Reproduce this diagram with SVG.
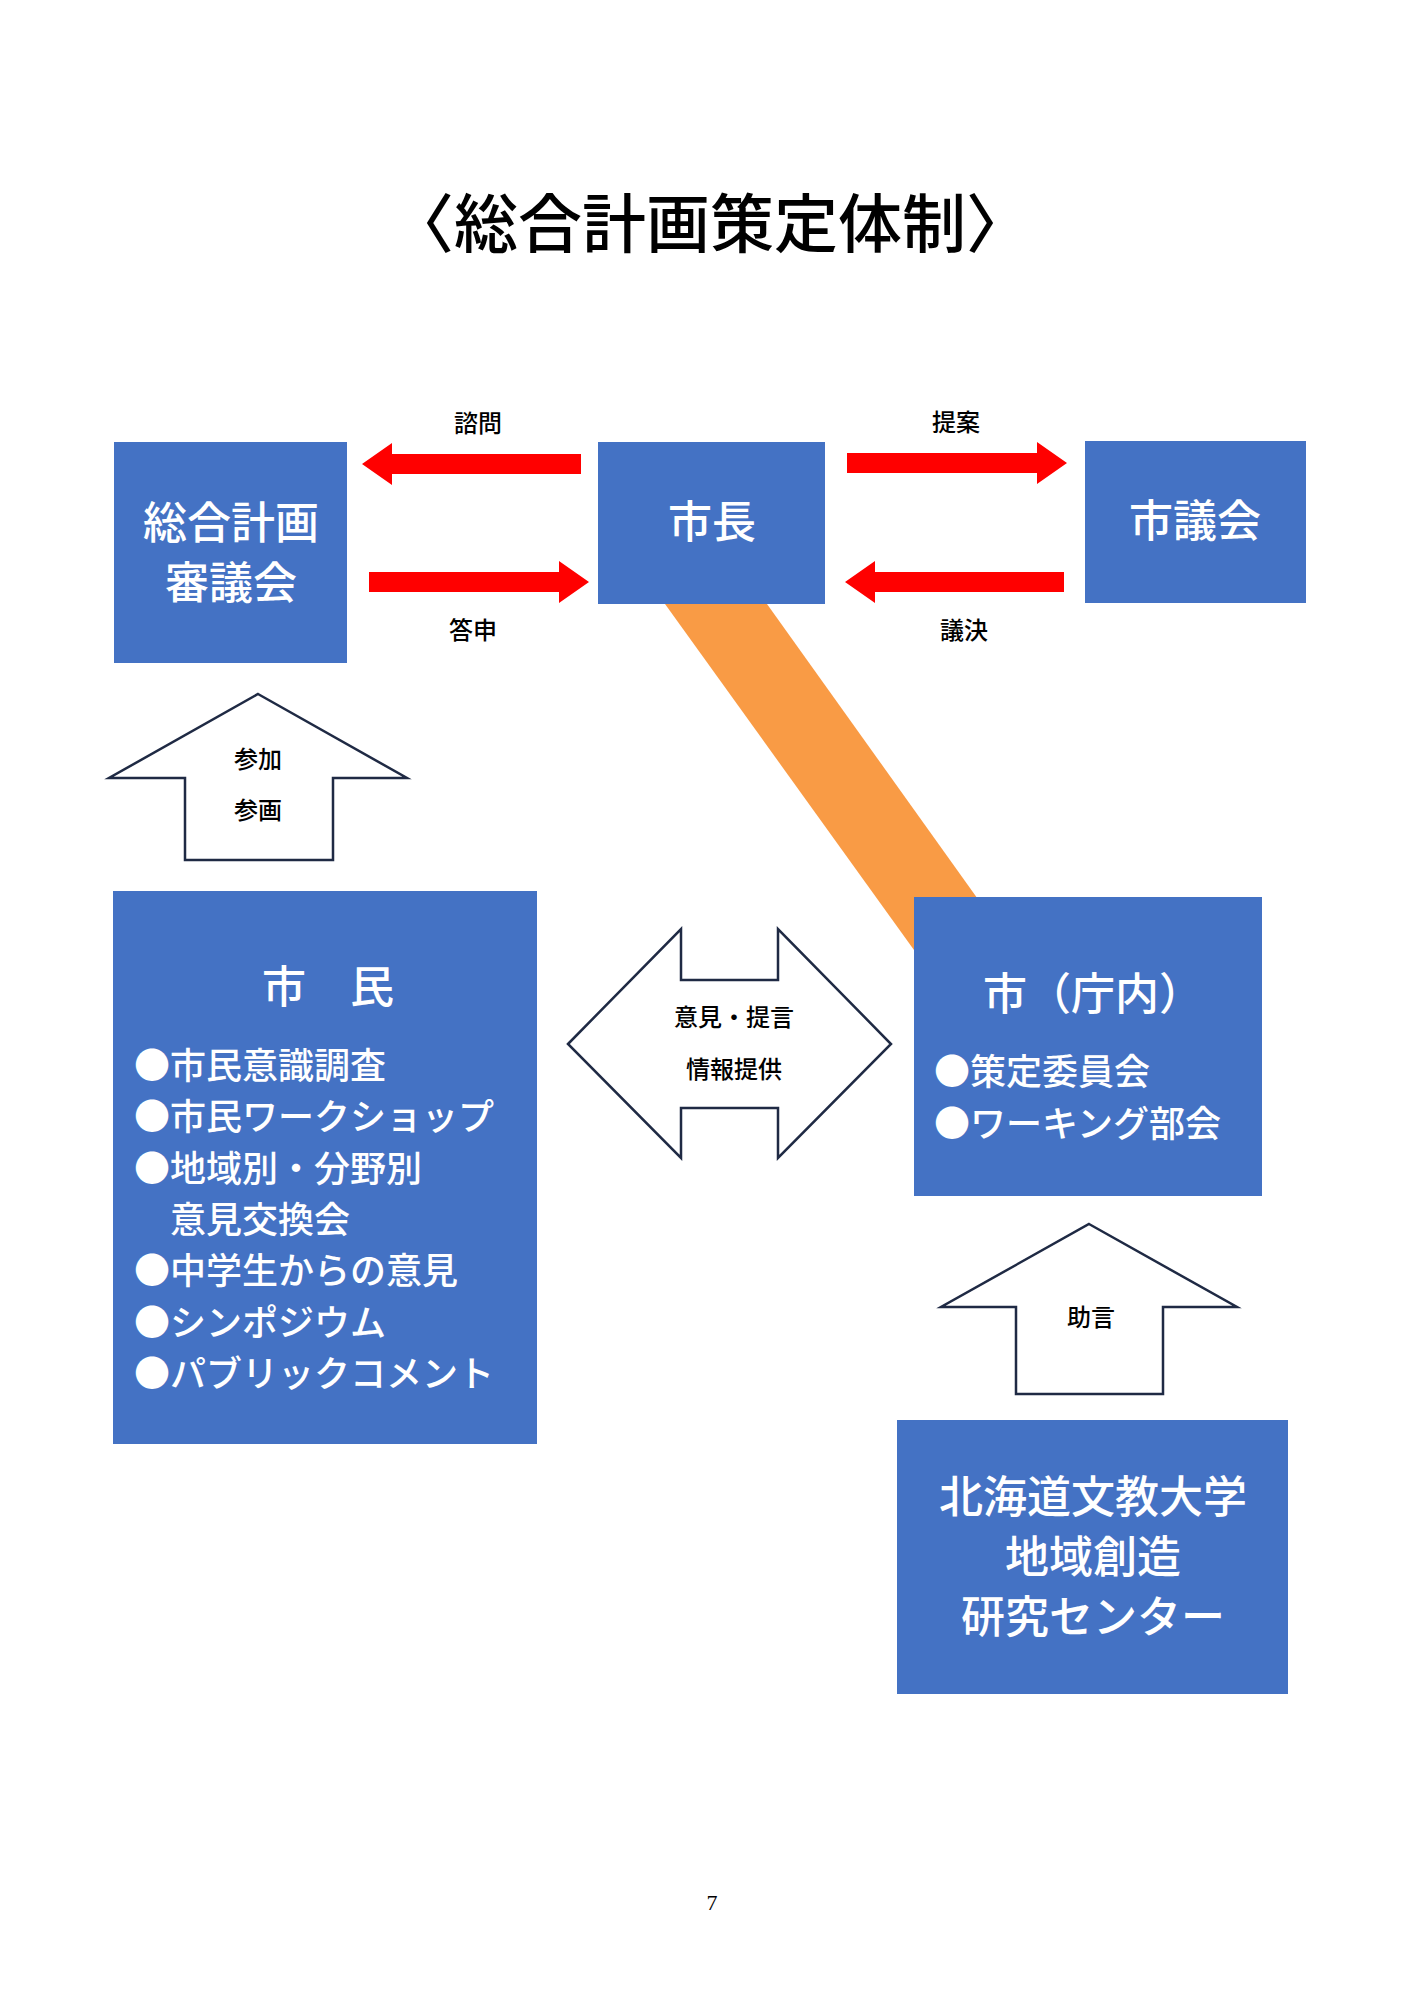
<svg xmlns="http://www.w3.org/2000/svg" width="1414" height="2000" viewBox="0 0 1414 2000">
<style>
text{font-family:"Noto Sans CJK JP","Noto Sans",sans-serif}
.box{fill:#4472C4}
.wt{fill:#fff;font-size:44px;text-anchor:middle;font-weight:500}
.li{fill:#fff;font-size:36px;font-weight:500}
.lb{fill:#000;font-size:24px;text-anchor:middle;font-weight:500}
.red{fill:#FF0000}
.out{fill:#fff;stroke:#1F2A44;stroke-width:2.5}
</style>
<rect width="1414" height="2000" fill="#fff"/>
<text x="710" y="247" font-size="64" text-anchor="middle" fill="#000" font-weight="500">〈総合計画策定体制〉</text>
<g id="connectors">
<polygon points="665,604 767,604 1000,930 914,950" fill="#F99B45"/>
<polygon class="red" points="581,454 392,454 392,443 362,464 392,485 392,474 581,474"/>
<polygon class="red" points="369,572 559,572 559,561 589,582 559,603 559,592 369,592"/>
<polygon class="red" points="847,453 1037,453 1037,442 1067,463 1037,484 1037,473 847,473"/>
<polygon class="red" points="1064,572 875,572 875,561 845,582 875,603 875,592 1064,592"/>
<text class="lb" x="478" y="432">諮問</text>
<text class="lb" x="473" y="639">答申</text>
<text class="lb" x="956" y="431">提案</text>
<text class="lb" x="964" y="639">議決</text>
<polygon class="out" points="258,694 407,778 333,778 333,860 185,860 185,778 109,778"/>
<text class="lb" x="258" y="768">参加</text>
<text class="lb" x="258" y="819">参画</text>
<polygon class="out" points="568,1044 681,929 681,980 778,980 778,929 891,1044 778,1158 778,1108 681,1108 681,1158"/>
<text class="lb" x="734" y="1026">意見・提言</text>
<text class="lb" x="734" y="1078">情報提供</text>
<polygon class="out" points="1089,1224 1237,1307 1163,1307 1163,1394 1016,1394 1016,1307 941,1307"/>
<text class="lb" x="1091" y="1326">助言</text>
</g>
<g id="shingikai"><rect class="box" x="114" y="442" width="233" height="221"/>
<text class="wt" x="231" y="539">総合計画</text><text class="wt" x="231" y="599">審議会</text></g>
<g id="shicho"><rect class="box" x="598" y="442" width="227" height="162"/>
<text class="wt" x="712" y="538">市長</text></g>
<g id="gikai"><rect class="box" x="1085" y="441" width="221" height="162"/>
<text class="wt" x="1195" y="537">市議会</text></g>
<g id="shimin"><rect class="box" x="113" y="891" width="424" height="553"/>
<text class="wt" x="328" y="1003">市　民</text>
<text class="li" x="134" y="1079">●市民意識調査</text>
<text class="li" x="134" y="1130">●市民ワークショップ</text>
<text class="li" x="134" y="1182">●地域別・分野別</text>
<text class="li" x="134" y="1233">　意見交換会</text>
<text class="li" x="134" y="1284">●中学生からの意見</text>
<text class="li" x="134" y="1336">●シンポジウム</text>
<text class="li" x="134" y="1387">●パブリックコメント</text></g>
<g id="chonai"><rect class="box" x="914" y="897" width="348" height="299"/>
<text class="wt" x="1093" y="1010">市（庁内）</text>
<text class="li" x="934" y="1085">●策定委員会</text>
<text class="li" x="934" y="1137">●ワーキング部会</text></g>
<g id="daigaku"><rect class="box" x="897" y="1420" width="391" height="274"/>
<text class="wt" x="1093" y="1513">北海道文教大学</text>
<text class="wt" x="1093" y="1573">地域創造</text>
<text class="wt" x="1093" y="1633">研究センター</text></g>
<text x="712" y="1910" font-size="22" text-anchor="middle" style="font-family:'Liberation Serif',serif">7</text>
</svg>
